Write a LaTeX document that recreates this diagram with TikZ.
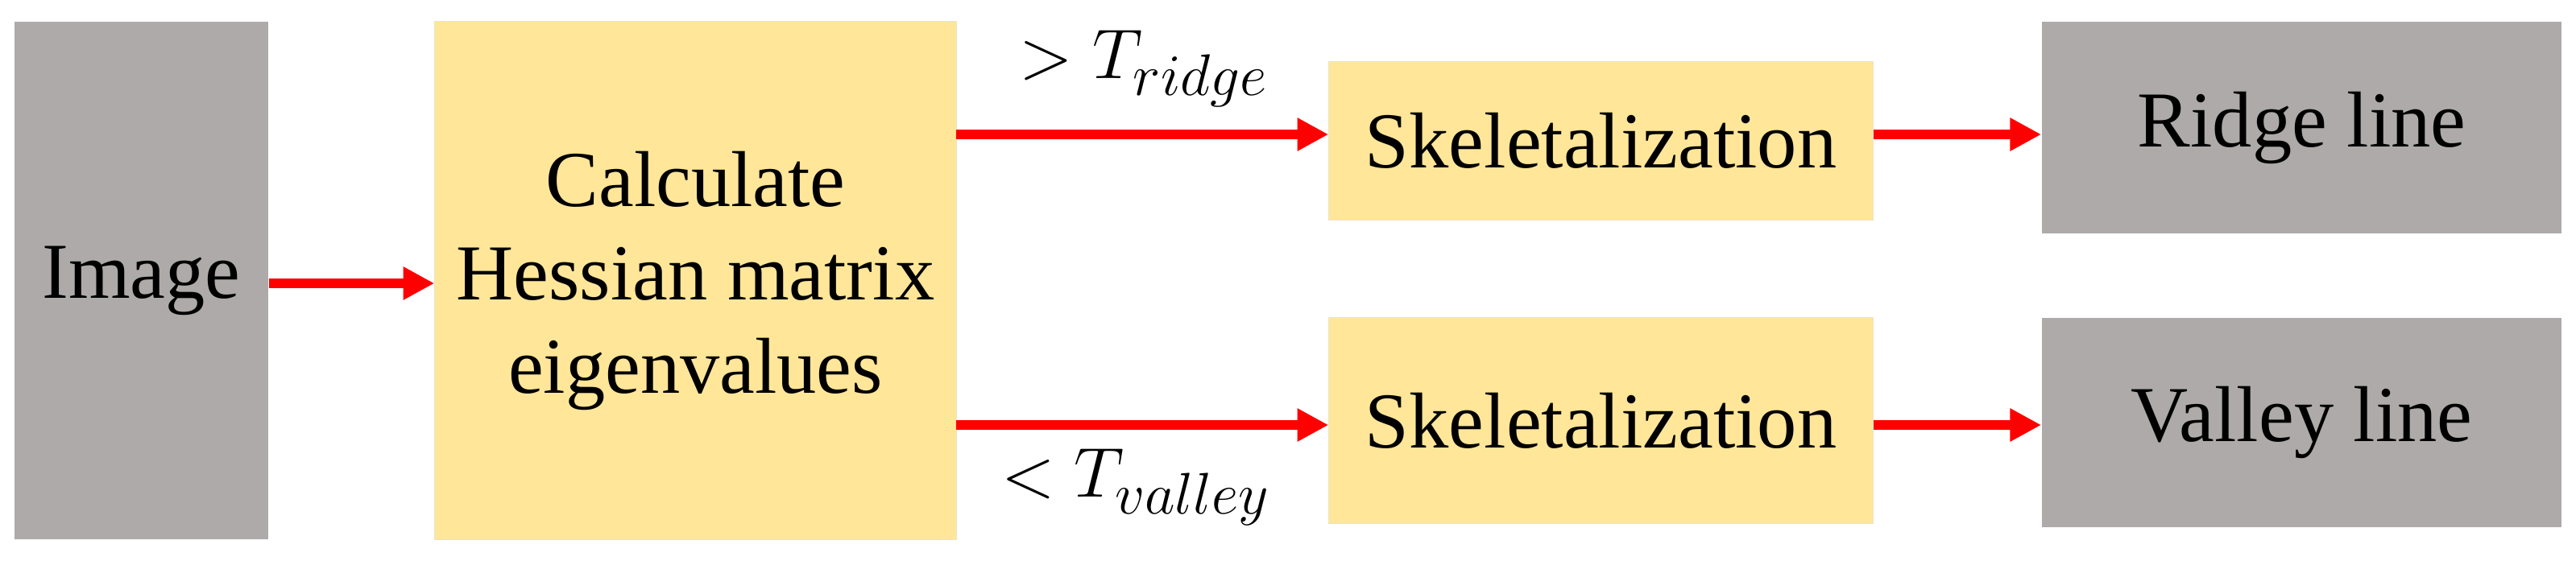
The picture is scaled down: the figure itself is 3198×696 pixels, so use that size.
\documentclass[tikz,border=0pt]{standalone}
\usepackage{fontspec}
\setmainfont{Liberation Serif}
\usetikzlibrary{arrows.meta}
\definecolor{greyb}{HTML}{AEAAAA}
\definecolor{yell}{HTML}{FFE699}
\tikzset{
 gbox/.style={fill=greyb,draw=none,inner sep=0pt,align=center,font=\fontsize{28}{33}\selectfont},
 ybox/.style={fill=yell,draw=yell!80!black!40,line width=0.3pt,inner sep=0pt,align=center,font=\fontsize{28}{33}\selectfont},
 arr/.style={draw=red,line width=3.2pt,-{Triangle[length=11pt,width=11pt]}},
 lab/.style={font=\fontsize{28}{33}\selectfont}
}
\begin{document}
\begin{tikzpicture}[x=0.01cm,y=-0.01cm]
\useasboundingbox (0,0) rectangle (3198,696);
\node[gbox,minimum width=3.15cm,minimum height=6.43cm] (img) at (175.5,348.5) {Image};
\node[ybox,minimum width=6.47cm,minimum height=6.43cm] (hes) at (863.5,348.5) {Calculate\\Hessian matrix\\eigenvalues};
\node[ybox,minimum width=6.75cm,minimum height=1.96cm] (sk1) at (1987.5,175) {Skeletalization};
\node[ybox,minimum width=6.75cm,minimum height=2.55cm] (sk2) at (1987.5,522.5) {Skeletalization};
\node[gbox,minimum width=6.45cm,minimum height=2.63cm] (rl) at (2857.5,158.5) {Ridge line};
\node[gbox,minimum width=6.45cm,minimum height=2.6cm] (vl) at (2857.5,525) {Valley line};
\draw[arr] (img.east |- 0,352) -- (hes.west |- 0,352);
\coordinate (h1) at (1187,167);
\coordinate (h2) at (1187,528);
\draw[arr] (h1) -- (sk1.west |- h1);
\draw[arr] (h2) -- (sk2.west |- h2);
\draw[arr] (sk1.east |- h1) -- (rl.west |- h1);
\draw[arr] (sk2.east |- h2) -- (vl.west |- h2);
\node[lab] (t1) at (1420,85) {$>T_{ridge}$};
\node[lab] (t2) at (1410,605) {$<T_{valley}$};
\end{tikzpicture}
\end{document}
